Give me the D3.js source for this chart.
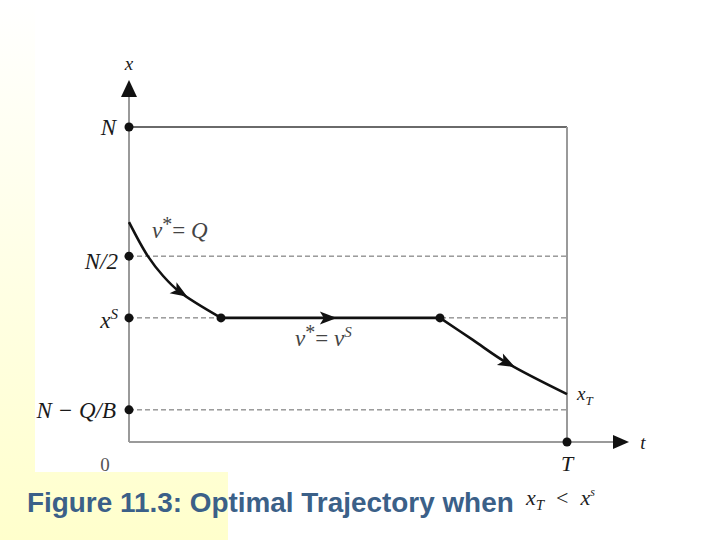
<!DOCTYPE html>
<html>
<head>
<meta charset="utf-8">
<script src="https://cdn.jsdelivr.net/npm/d3@7"></script>
<style>
  body { margin: 0; background: #fff; }
  svg { display: block; }
</style>
</head>
<body>
<script>
// levels on the x (state) axis, as fractions of N (figure is not to scale)
var levelNames = ['N', 'N/2', 'xS', 'N-Q/B'];
var levelValues = [1.0, 0.59, 0.394, 0.102];
var levelStyle = ['solid', 'dashed', 'dashed', 'dashed'];

// trajectory pieces: (t, x) with T = 1
var arcQ = [[0, 0.698], [0.043, 0.59], [0.078, 0.527], [0.116, 0.476], [0.21, 0.394]];
var arcS = [[0.21, 0.394], [0.71, 0.394]];
var arcT = [[0.71, 0.394], [0.785, 0.324], [0.863, 0.251], [1.0, 0.152]];
var arrowAt = [[arcQ, 0.116], [arcS, 0.454], [arcT, 0.863]];
var switchDots = [[0.21, 0.394], [0.71, 0.394]];

var W = 720, H = 540;
var svg = d3.select('body').append('svg').attr('width', W).attr('height', H);

// slide background: pale yellow gradient on the left, white picture on top
var defs = svg.append('defs');
var grad = defs.append('linearGradient').attr('id', 'bg')
  .attr('x1', 0).attr('y1', 0).attr('x2', 0).attr('y2', 1);
grad.append('stop').attr('offset', '0%').attr('stop-color', '#ffffff');
grad.append('stop').attr('offset', '100%').attr('stop-color', '#ffffcc');
svg.append('rect').attr('x', 0).attr('y', 0).attr('width', 228).attr('height', H)
  .attr('fill', 'url(#bg)');
svg.append('rect').attr('x', 35).attr('y', 0).attr('width', W - 35).attr('height', 472)
  .attr('fill', '#fff');

var x = d3.scaleLinear().domain([0, 1]).range([129, 567]);
var y = d3.scaleLinear().domain([0, 1]).range([442, 127]);

var axisColor = '#9a9a9a';
var serif = "'Liberation Serif', 'DejaVu Serif', serif";

// level lines
levelValues.forEach(function(v, i) {
  svg.append('line')
    .attr('x1', x(0)).attr('x2', x(1))
    .attr('y1', y(v)).attr('y2', y(v))
    .attr('stroke', levelStyle[i] == 'solid' ? '#6a6a6a' : '#666')
    .attr('stroke-width', levelStyle[i] == 'solid' ? 2 : 1)
    .attr('stroke-dasharray', levelStyle[i] == 'solid' ? null : '5,3');
});

// vertical at T
svg.append('line').attr('x1', x(1)).attr('x2', x(1)).attr('y1', y(1)).attr('y2', y(0))
  .attr('stroke', axisColor).attr('stroke-width', 2);

// axes
svg.append('line').attr('x1', x(0)).attr('x2', x(0)).attr('y1', y(0)).attr('y2', 96)
  .attr('stroke', axisColor).attr('stroke-width', 2);
svg.append('path').attr('d', 'M' + x(0) + ',80 L' + (x(0) - 8) + ',97 L' + (x(0) + 8) + ',97 Z')
  .attr('fill', '#111');
svg.append('line').attr('x1', x(0)).attr('x2', 614).attr('y1', y(0)).attr('y2', y(0))
  .attr('stroke', axisColor).attr('stroke-width', 2);
svg.append('path').attr('d', 'M629,' + y(0) + ' L613,' + (y(0) - 7) + ' L613,' + (y(0) + 7) + ' Z')
  .attr('fill', '#111');

// trajectory
var line = d3.line().x(function(d) { return x(d[0]); }).y(function(d) { return y(d[1]); })
  .curve(d3.curveCatmullRom.alpha(0.5));
[arcQ, arcS, arcT].forEach(function(arc) {
  svg.append('path').attr('d', line(arc)).attr('fill', 'none')
    .attr('stroke', '#111').attr('stroke-width', 2.6);
});

// direction arrows along the path
arrowAt.forEach(function(a) {
  var arc = a[0], t = a[1];
  var pts = arc.map(function(d) { return [x(d[0]), y(d[1])]; });
  var px = x(t), k = 0;
  for (var i = 0; i < pts.length - 1; i++) { if (px >= pts[i][0]) k = i; }
  var p0 = pts[k], p1 = pts[k + 1];
  var f = (px - p0[0]) / (p1[0] - p0[0]);
  var py = p0[1] + f * (p1[1] - p0[1]);
  var ang = Math.atan2(p1[1] - p0[1], p1[0] - p0[0]) * 180 / Math.PI;
  svg.append('path').attr('d', 'M9,0 L-8,-6.5 L-4,0 L-8,6.5 Z')
    .attr('transform', 'translate(' + px + ',' + py + ') rotate(' + ang + ')')
    .attr('fill', '#111');
});

// dots
var dots = levelValues.map(function(v) { return [0, v]; }).concat(switchDots).concat([[1, 0]]);
svg.selectAll('.dot').data(dots).enter().append('circle')
  .attr('cx', function(d) { return x(d[0]); })
  .attr('cy', function(d) { return y(d[1]); })
  .attr('r', 4.5).attr('fill', '#111');

// labels
function label(tx, ty, anchor, size) {
  return svg.append('text').attr('x', tx).attr('y', ty).attr('text-anchor', anchor)
    .attr('font-family', serif).attr('font-style', 'italic')
    .attr('font-size', size || 23).attr('fill', '#1a1a1a');
}
label(x(0), 70, 'middle', 19).text('x');
label(116, y(1) + 8, 'end').text('N');
label(118, y(levelValues[1]) + 13, 'end').text('N/2');
var xs = label(118, y(levelValues[2]) + 10, 'end');
xs.append('tspan').text('x');
xs.append('tspan').attr('dy', -9).attr('font-size', 15).text('S');
label(116, y(levelValues[3]) + 8, 'end').text('N \u2212 Q/B');
label(105, 471, 'middle', 19).attr('font-style', 'normal').attr('fill', '#555').text('0');
label(x(1), 471, 'middle', 22).text('T');
label(643, 449, 'middle', 19).text('t');

var xt = label(577, 400, 'start', 19);
xt.append('tspan').text('x');
xt.append('tspan').attr('dy', 5).attr('font-size', 13).text('T');

var vq = label(152, 238, 'start', 23).attr('fill', '#444');
vq.append('tspan').text('v');
vq.append('tspan').attr('dy', -7).attr('font-style', 'normal').attr('font-size', 20).text('*');
vq.append('tspan').attr('dy', 7).attr('font-style', 'normal').text('= ');
vq.append('tspan').text('Q');

var vs = label(295, 346, 'start', 23).attr('fill', '#444');
vs.append('tspan').text('v');
vs.append('tspan').attr('dy', -7).attr('font-style', 'normal').attr('font-size', 20).text('*');
vs.append('tspan').attr('dy', 7).attr('font-style', 'normal').text('= ');
vs.append('tspan').text('v');
vs.append('tspan').attr('dy', -9).attr('font-size', 15).text('S');

// caption
svg.append('text').attr('x', 27).attr('y', 512)
  .attr('font-family', "'Liberation Sans', Arial, sans-serif").attr('font-weight', 'bold')
  .attr('font-size', 27.9).attr('fill', '#3b6088')
  .text('Figure 11.3: Optimal Trajectory when');
var cm = svg.append('text').attr('x', 526).attr('y', 505)
  .attr('font-family', serif).attr('font-style', 'italic')
  .attr('font-size', 22).attr('fill', '#222');
cm.append('tspan').text('x');
cm.append('tspan').attr('dy', 5).attr('font-size', 15).text('T');
cm.append('tspan').attr('dy', -5).attr('dx', 12).attr('font-style', 'normal').text('<');
cm.append('tspan').attr('dx', 12).text('x');
cm.append('tspan').attr('dy', -9).attr('font-size', 12).text('s');
</script>
</body>
</html>
